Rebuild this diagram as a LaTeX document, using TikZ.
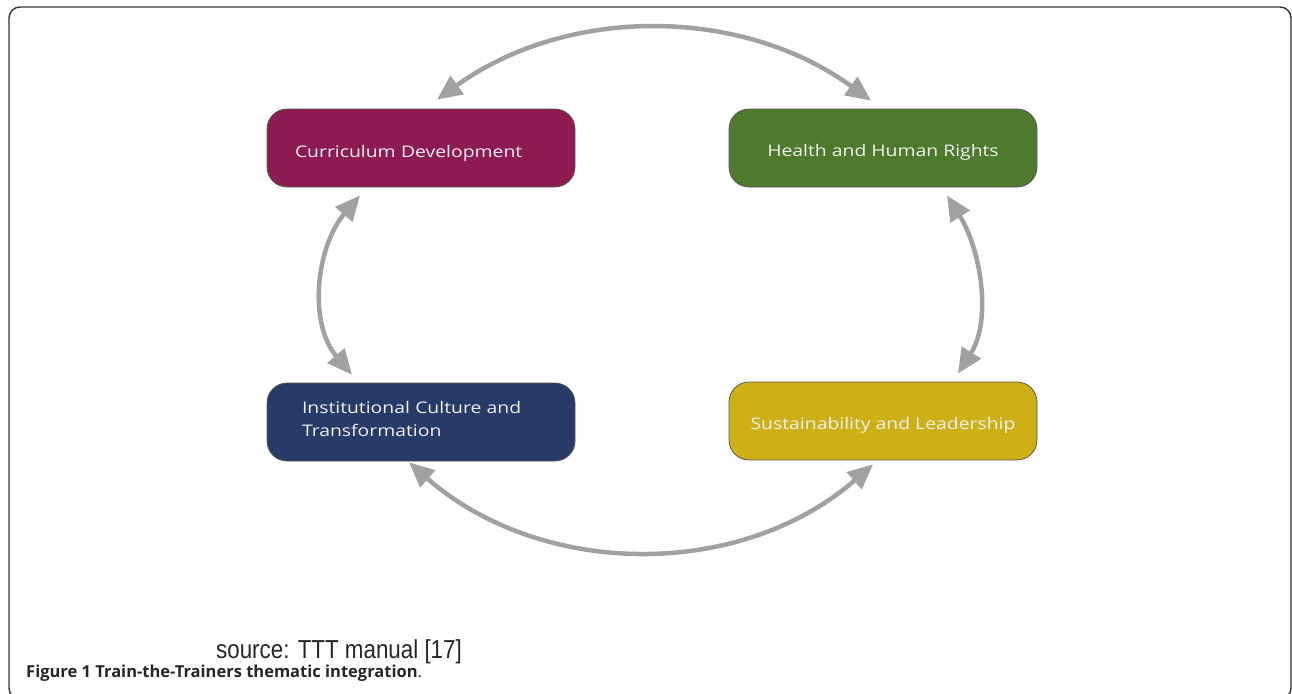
\documentclass[tikz,border=0pt]{standalone}
\usepackage{fontspec}
\usetikzlibrary{arrows.meta}
\newfontfamily\boxfont[FakeStretch=1.21]{Open Sans}
\newfontfamily\capfont[FakeStretch=0.86]{Liberation Sans}
\newfontfamily\figfont{Open Sans}
\definecolor{cmaroon}{RGB}{139,27,80}
\definecolor{cgreen}{RGB}{79,122,46}
\definecolor{cnavy}{RGB}{40,58,103}
\definecolor{cgold}{RGB}{205,176,22}
\definecolor{carrow}{RGB}{162,161,162}
\definecolor{cframe}{RGB}{50,50,50}
\newcommand{\shiftdown}[2]{\raisebox{#1}[\height][\depth]{#2}}
\tikzset{
  themebox/.style={draw=black!65, line width=0.8pt, rounded corners=20pt,
    minimum width=308pt, minimum height=78pt, text=white!94!black,
    font=\boxfont\fontsize{16}{23}\selectfont, inner ysep=0pt},
  leftbox/.style={themebox, align=left},
  link/.style={draw=carrow, line width=4.5pt,
    {Triangle[length=25pt,width=22pt]}-{Triangle[length=25pt,width=22pt]}},
}
\begin{document}
\begin{tikzpicture}[x=1pt,y=-1pt]
\useasboundingbox (0,0) rectangle (1292,693);
\begin{scope}
\clip (0,0) rectangle (1292,693);
\draw[cframe, line width=1.4pt, rounded corners=11pt] (9,7) rectangle (1291,699);
\end{scope}

\node[leftbox, fill=cmaroon, text width=252pt, inner xsep=28pt] (cd) at (421,148) {\shiftdown{-5pt}{Curriculum Development}};
\node[themebox, fill=cgreen] (hr) at (883,148) {\shiftdown{-4pt}{Health and Human Rights}};
\node[leftbox, fill=cnavy, text width=238pt, inner xsep=35pt] (ic) at (421,422) {\shiftdown{2pt}{\begin{tabular}{@{}l@{}}Institutional Culture and\\Transformation\end{tabular}}};
\node[themebox, fill=cgold] (sl) at (883,421) {\shiftdown{-4pt}{Sustainability and Leadership}};

\path[link] ([xshift=16pt,yshift=9pt]cd.north) .. controls (567,6) and (741,6) .. ([xshift=-12pt,yshift=8pt]hr.north);
\path[link] ([xshift=-61pt,yshift=-8pt]cd.south) .. controls (316,247) and (308,323) .. ([xshift=-69pt,yshift=8pt]ic.north);
\path[link] ([xshift=64pt,yshift=-8pt]hr.south) .. controls (981,250) and (992,320) .. ([xshift=75pt,yshift=8pt]sl.north);
\path[link] ([xshift=-12pt,yshift=-1pt]ic.south) .. controls (541,578) and (740,580) .. ([xshift=-10pt,yshift=-4pt]sl.south);

\node[anchor=base west, inner sep=0pt, font=\capfont\fontsize{26}{30}\selectfont, text=black!85] (src) at (216,658) {source: TTT manual [17]};
\node[anchor=base west, inner sep=0pt, font=\figfont\fontsize{16.5}{20}\selectfont, text=black!85] (fig) at (26,677) {\textbf{Figure 1 Train-the-Trainers thematic integration}.};
\end{tikzpicture}
\end{document}
